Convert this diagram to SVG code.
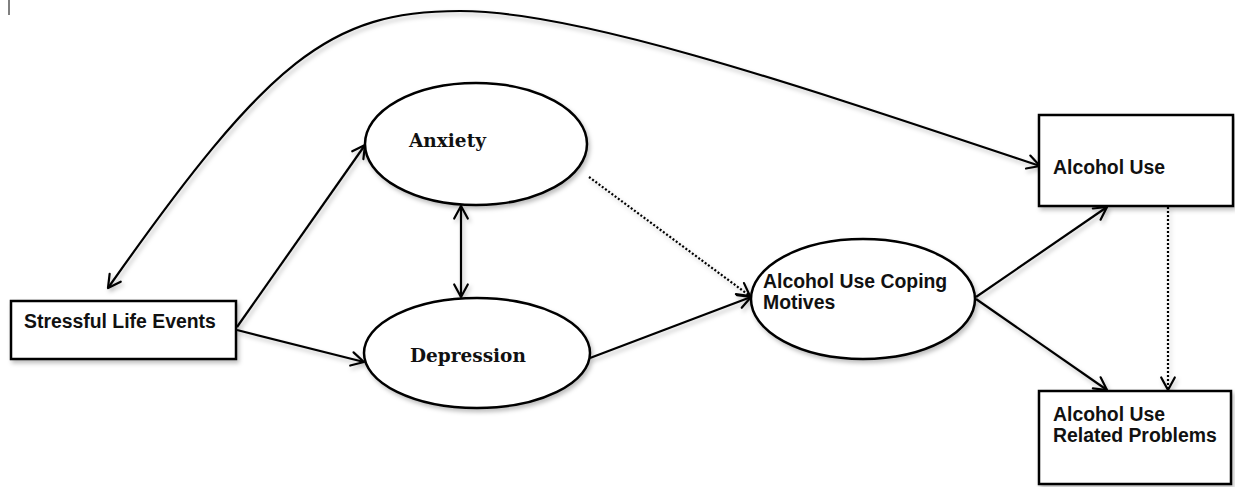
<svg xmlns="http://www.w3.org/2000/svg" width="1235" height="487" viewBox="0 0 1235 487">
  <style>
    .shape { fill: #ffffff; stroke: #000000; stroke-width: 2.5; }
    .conn { fill: none; stroke: #000000; stroke-width: 2.2; }
    .dot { fill: none; stroke: #000000; stroke-width: 2.2; stroke-dasharray: 2 2; }
    .sans { font-family: "Liberation Sans", Arial, sans-serif; font-weight: bold; font-size: 19.4px; fill: #111111; }
    .serif { font-family: "DejaVu Serif", "Liberation Serif", serif; font-weight: bold; font-size: 18.5px; fill: #111111; }
  </style>
  <defs>
    <filter id="sh" x="-10%" y="-10%" width="130%" height="140%">
      <feDropShadow dx="2" dy="3" stdDeviation="2" flood-color="#000000" flood-opacity="0.25"/>
    </filter>
    <marker id="arr" viewBox="-15 -9 17 18" refX="0" refY="0" markerWidth="17" markerHeight="18" markerUnits="userSpaceOnUse" orient="auto-start-reverse">
      <path d="M-12.5,-6.8 L0,0 L-12.5,6.8" fill="none" stroke="#000000" stroke-width="2.2" stroke-linejoin="round" stroke-linecap="round"/>
    </marker>
  </defs>
  <rect width="1235" height="487" fill="#ffffff"/>
  <line x1="9" y1="0" x2="9" y2="15" stroke="#000000" stroke-width="1"/>

  <g id="connectors" filter="url(#sh)">
    <path class="conn" d="M108,288 C269,59 330,11 460,11 C580,11 800,86 1040,166" marker-start="url(#arr)" marker-end="url(#arr)"/>
    <line class="conn" x1="237" y1="327" x2="365" y2="145" marker-end="url(#arr)"/>
    <line class="conn" x1="237" y1="330" x2="364" y2="362" marker-end="url(#arr)"/>
    <line class="conn" x1="461" y1="206" x2="461" y2="297" marker-start="url(#arr)" marker-end="url(#arr)"/>
    <line class="conn" x1="590" y1="358" x2="751" y2="297" marker-end="url(#arr)"/>
    <line class="dot" x1="589" y1="177" x2="750" y2="296" marker-end="url(#arr)"/>
    <line class="conn" x1="976" y1="297" x2="1107" y2="207" marker-end="url(#arr)"/>
    <line class="conn" x1="976" y1="299" x2="1107" y2="390" marker-end="url(#arr)"/>
    <line class="dot" x1="1168" y1="207" x2="1168" y2="390" marker-end="url(#arr)"/>
  </g>

  <g id="stressful-life-events">
    <rect class="shape" x="11" y="301" width="225" height="58" filter="url(#sh)"/>
    <text class="sans" x="24" y="328">Stressful Life Events</text>
  </g>
  <g id="anxiety">
    <ellipse class="shape" cx="476" cy="144" rx="111" ry="61" filter="url(#sh)"/>
    <text class="serif" x="409" y="147">Anxiety</text>
  </g>
  <g id="depression">
    <ellipse class="shape" cx="477" cy="353" rx="113" ry="55" filter="url(#sh)"/>
    <text class="serif" x="410" y="362">Depression</text>
  </g>
  <g id="coping-motives">
    <ellipse class="shape" cx="863" cy="299" rx="112" ry="60" filter="url(#sh)"/>
    <text class="sans" x="763" y="288">Alcohol Use Coping</text>
    <text class="sans" x="763" y="309">Motives</text>
  </g>
  <g id="alcohol-use">
    <rect class="shape" x="1039" y="115" width="194" height="91" filter="url(#sh)"/>
    <text class="sans" x="1053" y="174">Alcohol Use</text>
  </g>
  <g id="alcohol-problems">
    <rect class="shape" x="1039" y="391" width="192" height="93" filter="url(#sh)"/>
    <text class="sans" x="1053" y="421">Alcohol Use</text>
    <text class="sans" x="1053" y="442">Related Problems</text>
  </g>
</svg>
